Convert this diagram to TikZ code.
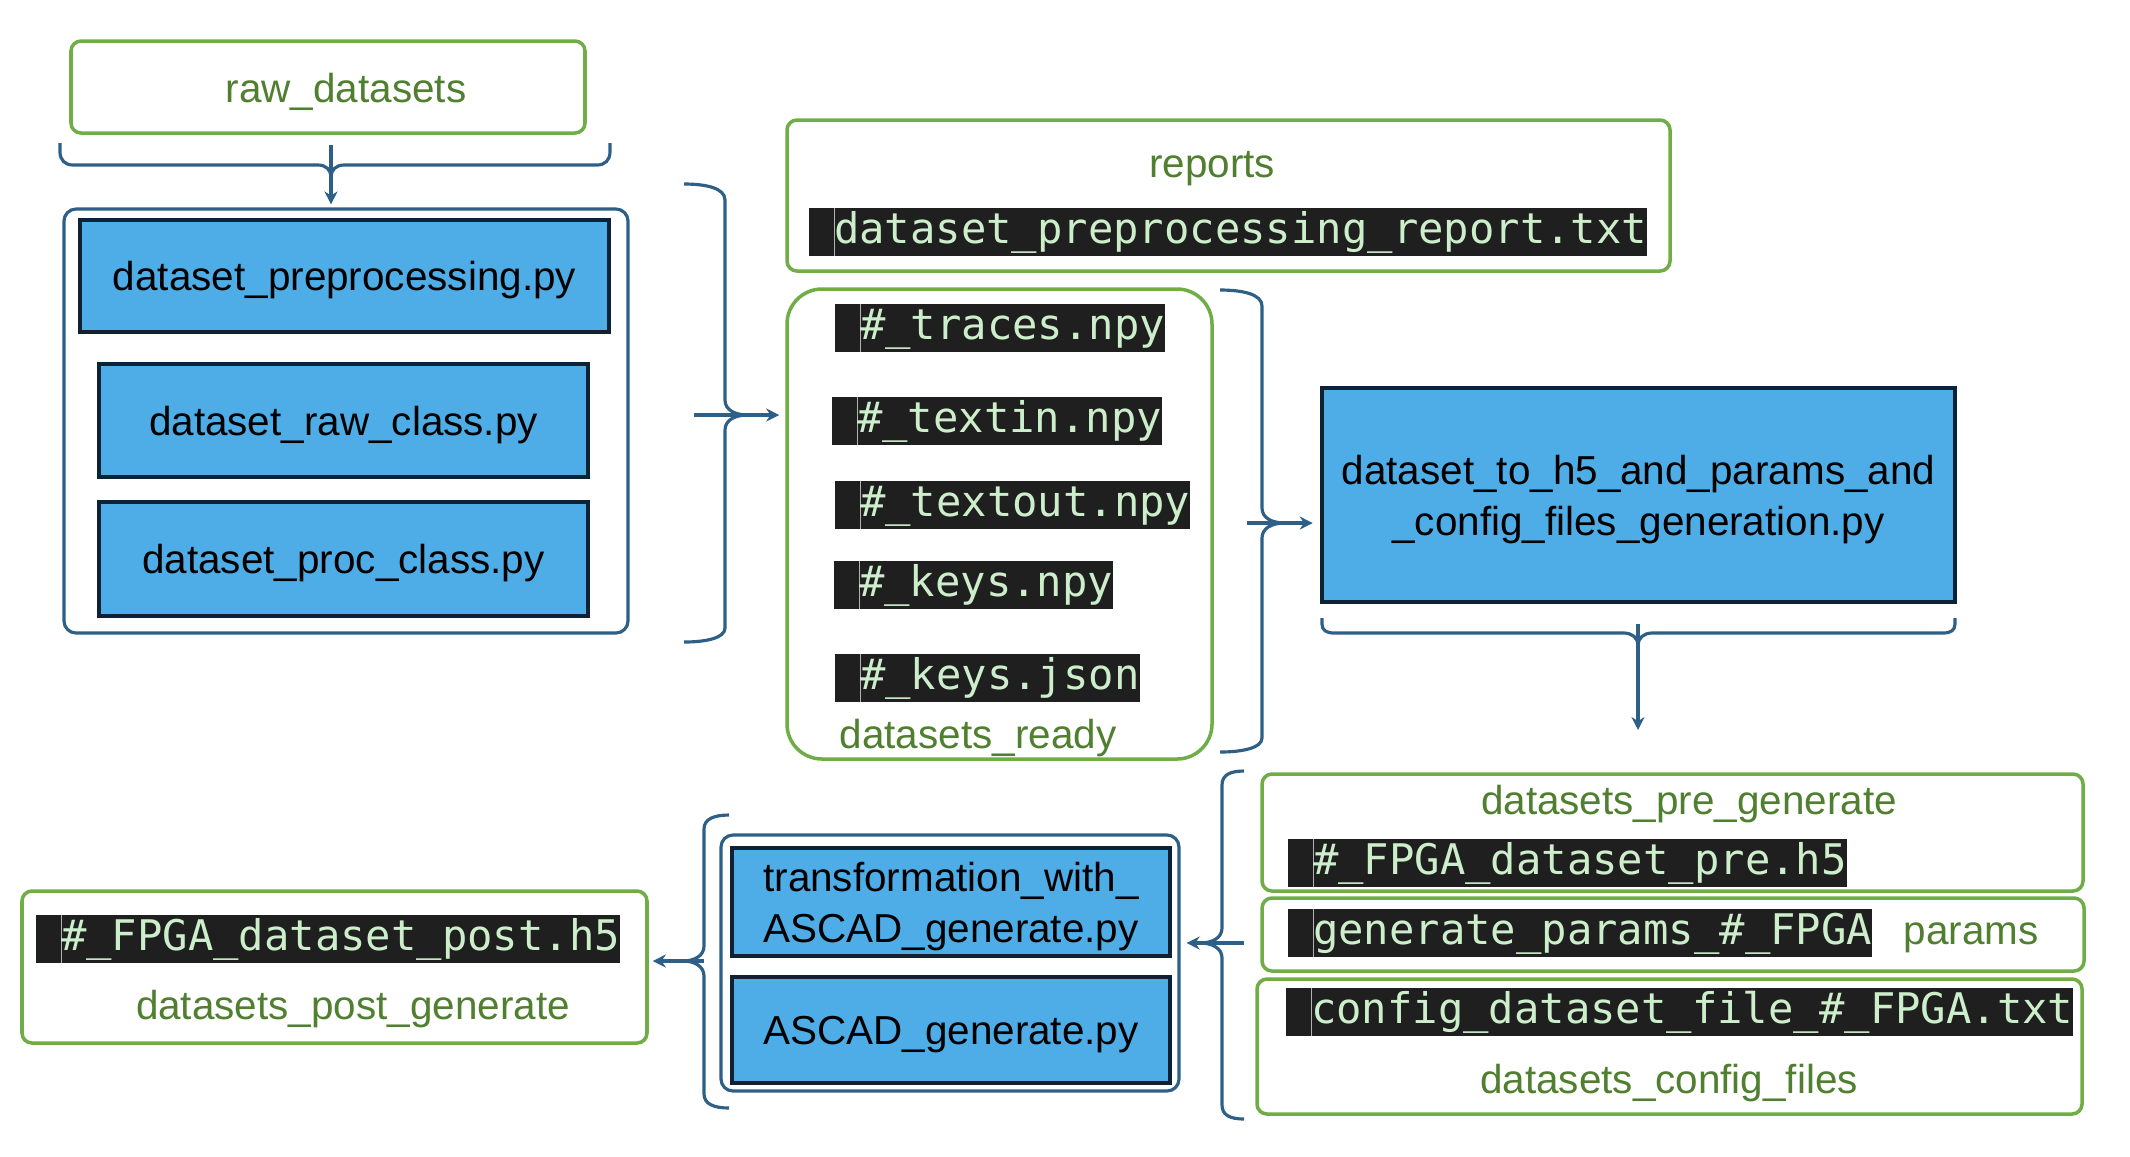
\documentclass[tikz,border=0pt]{standalone}
\usepackage{fontspec}
\setmainfont{Liberation Sans}
\newfontfamily\codefamily{DejaVu Sans Mono}
\usepackage{xcolor}
\usepackage{tikz}
\usetikzlibrary{arrows.meta,fit}
\definecolor{boxgreen}{HTML}{70AD47}
\definecolor{lblgreen}{HTML}{4F7F2F}
\definecolor{pyblue}{HTML}{4EADE6}
\definecolor{pynavy}{HTML}{0F2235}
\definecolor{grpblue}{HTML}{2E6087}
\definecolor{stripbg}{HTML}{1F1F1F}
\definecolor{stripfg}{HTML}{CDEECB}

\newcommand{\pyfont}{\fontsize{11.5}{14.5}\selectfont}
\newcommand{\lblfont}{\fontsize{11.5}{14}\selectfont}
\newcommand{\codefont}{\codefamily\fontsize{12}{14}\selectfont}

\tikzset{
  greenbox/.style={draw=boxgreen, line width=1pt, rounded corners=0.1cm, inner sep=0pt},
  grpbox/.style={draw=grpblue, line width=0.9pt, rounded corners=0.12cm, inner sep=0pt},
  pybox/.style={draw=pynavy, fill=pyblue, line width=1.2pt, inner sep=0pt, text depth=0pt, font=\pyfont, align=center},
  lbl/.style={text=lblgreen, font=\lblfont, inner sep=0pt},
  strip/.style={fill=stripbg, text=stripfg, font=\codefont, anchor=west, inner xsep=0pt, inner ysep=0.7pt,
    text height=9.3pt, text depth=2.9pt,
    path picture={\draw[gray!60, line width=0.3pt] ([xshift=7.22pt]path picture bounding box.north west) -- ([xshift=7.22pt]path picture bounding box.south west);}},
  brc/.style={draw=grpblue, line width=0.9pt},
  arr/.style={grpblue, line width=0.9pt, -{Stealth[length=0.13cm,width=0.13cm]}}
}

\begin{document}
\begin{tikzpicture}[x=0.01cm,y=-0.01cm]
  \fill[white] (0,0) rectangle (2130,1156);
  \useasboundingbox (0,0) rectangle (2130,1156);

  % raw data and preprocessing scripts
  \node[greenbox, fit={(71,41) (585,133)}] (raw) {};
  \node[lbl] (rawlbl) at (346,92) {raw\_datasets};
  \node[grpbox, fit={(64,209) (628,633)}] (prepgrp) {};
  \node[pybox, minimum width=5.29cm, minimum height=1.12cm] (preproc) at (344.5,276) {dataset\_preprocessing.py};
  \node[pybox, minimum width=4.89cm, minimum height=1.13cm] (rawcls) at (343.5,420.5) {dataset\_raw\_class.py};
  \node[pybox, minimum width=4.89cm, minimum height=1.14cm] (proccls) at (343.5,559) {dataset\_proc\_class.py};

  \draw[brc] (60,143) -- (60,152) .. controls (60,160) and (65,165) .. (73,165) -- (318,165) .. controls (326,165) and (331,170) .. (331,177);
  \draw[brc] (331,177) .. controls (331,170) and (336,165) .. (344,165) -- (597,165) .. controls (605,165) and (610,160) .. (610,152) -- (610,143);
  \coordinate (rawout) at (331,145);
  \draw[arr, shorten >=0.03cm] (rawout) -- (rawout |- prepgrp.north);

  % outputs of preprocessing
  \node[greenbox, fit={(787,120) (1670,271)}] (reports) {};
  \node[lbl] (reportslbl) at (1212,169) {reports};
  \node[strip] (rptfile) at (808,232) {\ dataset\_preprocessing\_report.txt};

  \node[greenbox, rounded corners=0.35cm, fit={(787,289) (1212,759)}] (ready) {};
  \node[strip] (traces) at (834,328) {\ \#\_traces.npy};
  \node[strip] (textin) at (831,421) {\ \#\_textin.npy};
  \node[strip] (textout) at (834,505) {\ \#\_textout.npy};
  \node[strip] (keysnpy) at (833,585) {\ \#\_keys.npy};
  \node[strip] (keysjson) at (834,678) {\ \#\_keys.json};
  \node[lbl] (readylbl) at (978,738) {datasets\_ready};

  \draw[brc] (684,184) .. controls (706,184) and (725,188) .. (725,200) -- (725,400) .. controls (725,410) and (735,415) .. (748,415);
  \draw[brc] (748,415) .. controls (735,415) and (725,420) .. (725,430) -- (725,628) .. controls (725,638) and (706,642) .. (684,642);
  \coordinate (prepout) at (694,415);
  \draw[arr, shorten >=0.06cm] (prepout) -- (prepout -| ready.west);

  % h5 generation
  \node[pybox, minimum width=6.33cm, minimum height=2.14cm] (toh5) at (1638.5,495) {dataset\_to\_h5\_and\_params\_and\\\_config\_files\_generation.py};

  \draw[brc] (1220,290) .. controls (1242,290) and (1262,294) .. (1262,306) -- (1262,508) .. controls (1262,518) and (1272,523) .. (1285,523);
  \draw[brc] (1285,523) .. controls (1272,523) and (1262,528) .. (1262,538) -- (1262,738) .. controls (1262,748) and (1242,752) .. (1220,752);
  \coordinate (readyout) at (1247,523);
  \draw[arr, shorten >=0.07cm] (readyout) -- (readyout -| toh5.west);

  \draw[brc] (1322,618) -- (1322,624) .. controls (1322,630) and (1326,633) .. (1334,633) -- (1624,633) .. controls (1632,633) and (1638,638) .. (1638,645);
  \draw[brc] (1638,645) .. controls (1638,638) and (1644,633) .. (1652,633) -- (1943,633) .. controls (1951,633) and (1955,630) .. (1955,624) -- (1955,618);
  \coordinate (toh5out) at (1638,624);
  \coordinate (toh5end) at (1638,730);
  \draw[arr] (toh5out) -- (toh5end);

  % generated files
  \node[greenbox, fit={(1262,774) (2083,891)}] (pregen) {};
  \node[lbl] (pregenlbl) at (1689,804) {datasets\_pre\_generate};
  \node[strip] (prefile) at (1287,863) {\ \#\_FPGA\_dataset\_pre.h5};
  \node[greenbox, fit={(1262,898) (2084,971)}] (params) {};
  \node[strip] (paramfile) at (1287,933) {\ generate\_params\_\#\_FPGA};
  \node[lbl] (paramslbl) at (1971,938) {params};
  \node[greenbox, fit={(1257,979) (2082,1114)}] (config) {};
  \node[strip] (cfgfile) at (1285,1012) {\ config\_dataset\_file\_\#\_FPGA.txt};
  \node[lbl] (configlbl) at (1669,1083) {datasets\_config\_files};

  \draw[brc] (1244,771) .. controls (1230,771) and (1222,775) .. (1222,785) -- (1222,928) .. controls (1222,938) and (1212,943) .. (1200,943);
  \draw[brc] (1200,943) .. controls (1212,943) and (1222,948) .. (1222,958) -- (1222,1105) .. controls (1222,1115) and (1230,1119) .. (1244,1119);

  % ASCAD generation
  \node[grpbox, fit={(721,835) (1179,1091)}] (gengrp) {};
  \node[pybox, minimum width=4.38cm, minimum height=1.08cm] (transf) at (951,902) {transformation\_with\_\\ASCAD\_generate.py};
  \node[pybox, minimum width=4.38cm, minimum height=1.06cm] (ascad) at (951,1030) {ASCAD\_generate.py};
  \coordinate (filesout) at (1244,943);
  \draw[arr, shorten >=0.06cm] (filesout) -- (filesout -| gengrp.east);

  \draw[brc] (729,815) .. controls (714,815) and (704,819) .. (704,829) -- (704,946) .. controls (704,956) and (694,961) .. (683,961);
  \draw[brc] (683,961) .. controls (694,961) and (704,966) .. (704,976) -- (704,1094) .. controls (704,1104) and (714,1108) .. (729,1108);

  \node[greenbox, fit={(22,891) (647,1043)}] (post) {};
  \node[strip] (postfile) at (35,939) {\ \#\_FPGA\_dataset\_post.h5};
  \node[lbl] (postlbl) at (353,1009) {datasets\_post\_generate};
  \coordinate (genout) at (704,961);
  \draw[arr, shorten >=0.04cm] (genout) -- (genout -| post.east);
\end{tikzpicture}
\end{document}
